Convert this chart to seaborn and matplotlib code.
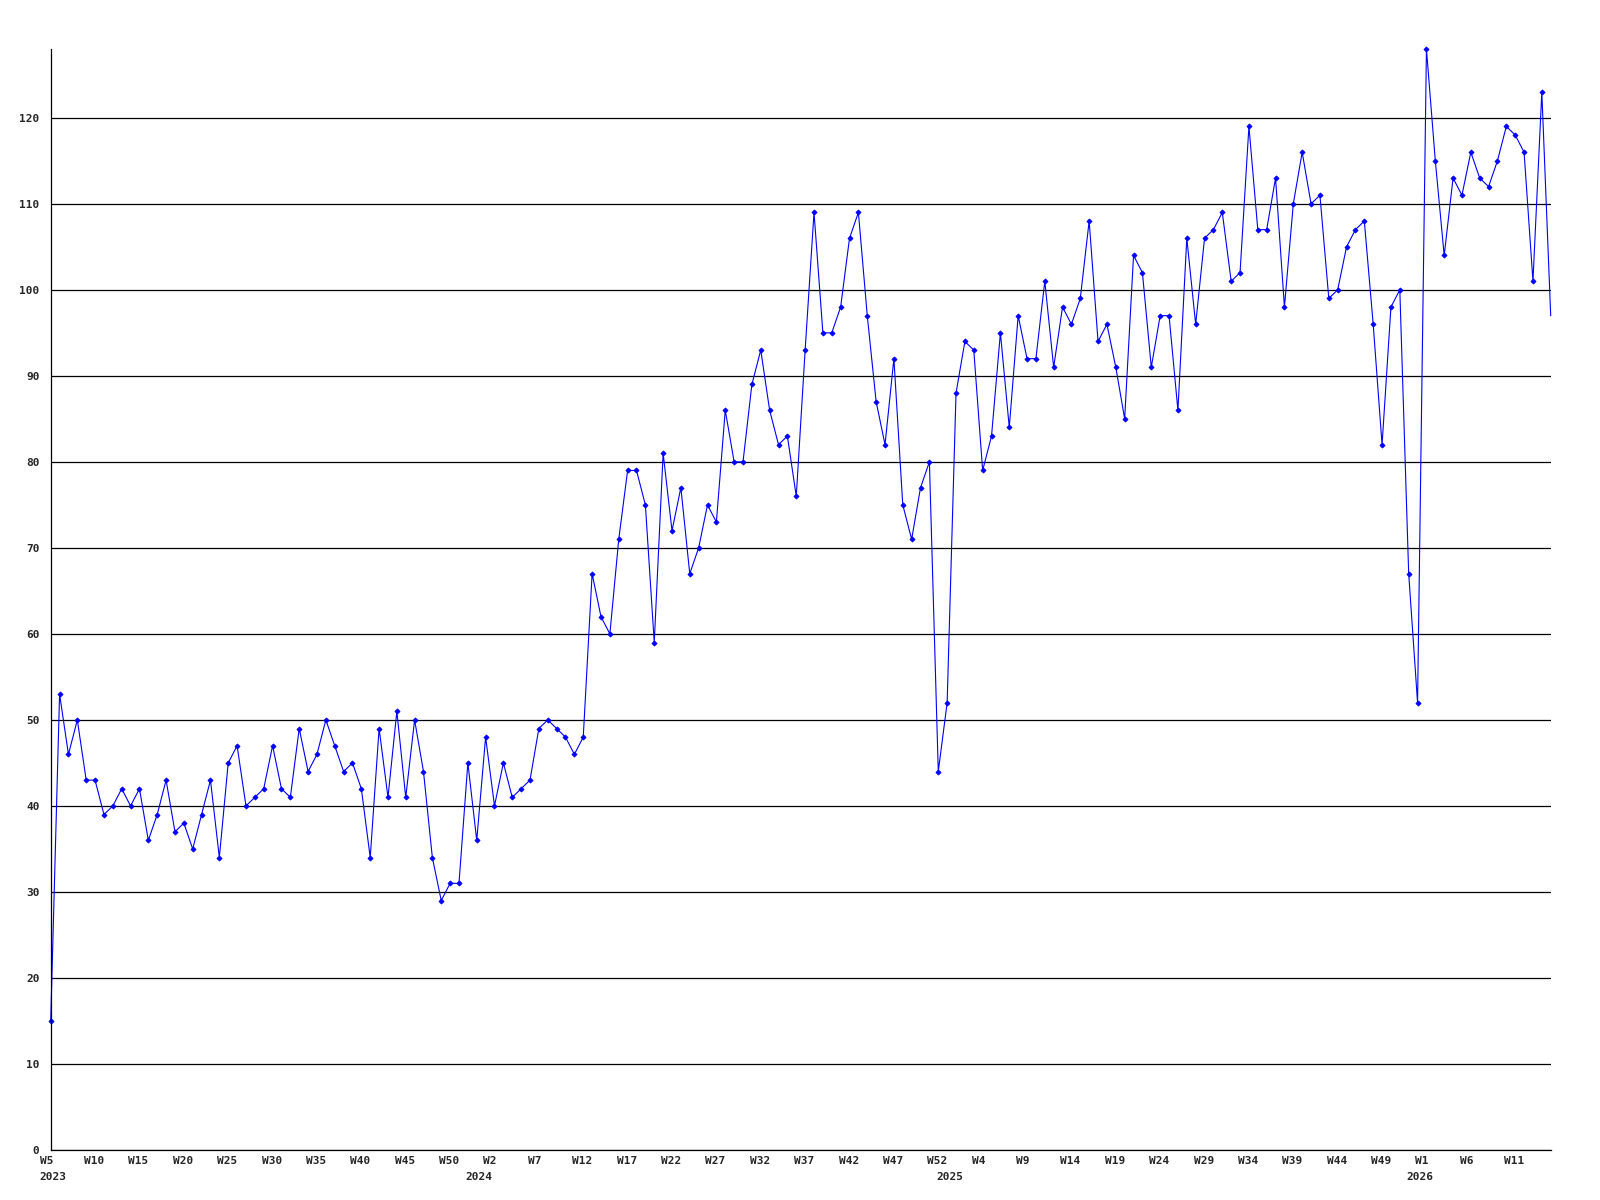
import numpy as np
import pandas as pd
import matplotlib
matplotlib.use("Agg")
import matplotlib.pyplot as plt
import seaborn as sns

# --- Data: weekly counts, 2023 W5 through 2026 W15 ---
values = [
    15, 53, 46, 50, 43, 43, 39, 40, 42, 40,
    42, 36, 39, 43, 37, 38, 35, 39, 43, 34,
    45, 47, 40, 41, 42, 47, 42, 41, 49, 44,
    46, 50, 47, 44, 45, 42, 34, 49, 41, 51,
    41, 50, 44, 34, 29, 31, 31, 45, 36, 48,
    40, 45, 41, 42, 43, 49, 50, 49, 48, 46,
    48, 67, 62, 60, 71, 79, 79, 75, 59, 81,
    72, 77, 67, 70, 75, 73, 86, 80, 80, 89,
    93, 86, 82, 83, 76, 93, 109, 95, 95, 98,
    106, 109, 97, 87, 82, 92, 75, 71, 77, 80,
    44, 52, 88, 94, 93, 79, 83, 95, 84, 97,
    92, 92, 101, 91, 98, 96, 99, 108, 94, 96,
    91, 85, 104, 102, 91, 97, 97, 86, 106, 96,
    106, 107, 109, 101, 102, 119, 107, 107, 113, 98,
    110, 116, 110, 111, 99, 100, 105, 107, 108, 96,
    82, 98, 100, 67, 52, 128, 115, 104, 113, 111,
    116, 113, 112, 115, 119, 118, 116, 101, 123, 97,
]

# labels on every 5th week
tick_labels = [
    "W5", "W10", "W15", "W20", "W25", "W30", "W35", "W40", "W45", "W50",
    "W2", "W7", "W12", "W17", "W22", "W27", "W32", "W37", "W42", "W47", "W52",
    "W4", "W9", "W14", "W19", "W24", "W29", "W34", "W39", "W44", "W49",
    "W1", "W6", "W11",
]
year_labels = ["2023", "2024", "2025", "2026"]
year_pos = [0, 49, 102, 155]   # index of first week of each year in the series

df = pd.DataFrame({"week": np.arange(len(values)), "value": values})

# --- Plot ---
sns.set_style("white")
plt.rcParams['font.family'] = ['DejaVu Sans Mono', 'DejaVu Sans']

fig = plt.figure(figsize=(16, 12), dpi=100)
ax = fig.add_axes([50.7 / 1600, 50 / 1200, 1500 / 1600, 1101 / 1200])

sns.lineplot(data=df, x="week", y="value", ax=ax, color="#0000ff",
             linewidth=0.8, marker="D", markersize=2.6,
             markeredgewidth=0.6, markeredgecolor="#0000ff",
             markevery=list(range(len(values) - 1)), clip_on=False)

ax.set_xlim(0, len(values) - 1)
ax.set_ylim(0, max(values))
ax.set_axisbelow(True)

ax.set_yticks(range(0, 121, 10))
ax.yaxis.grid(True, color="black", linewidth=0.9)
ax.xaxis.grid(False)
ax.tick_params(axis="y", length=0, pad=8, labelsize=8)
for lbl in ax.get_yticklabels():
    lbl.set_fontweight("bold")

ax.set_xticks(range(0, len(values), 5))
ax.set_xticklabels([])
ax.tick_params(axis="x", length=0)

for pos, lab in zip(range(0, len(values), 5), tick_labels):
    ax.annotate(lab, xy=(pos, 0), xycoords=("data", "axes fraction"),
                xytext=(-11, -11), textcoords="offset pixels",
                ha="left", va="center", fontsize=8, fontweight="bold")

for i, (pos, lab) in enumerate(zip(year_pos, year_labels)):
    if i == 0:
        ax.annotate(lab, xy=(pos, 0), xycoords=("data", "axes fraction"),
                    xytext=(-11, -27), textcoords="offset pixels",
                    ha="left", va="center", fontsize=8, fontweight="bold")
    else:
        ax.annotate(lab, xy=(pos, 0), xycoords=("data", "axes fraction"),
                    xytext=(-6.5, -27), textcoords="offset pixels",
                    ha="center", va="center", fontsize=8, fontweight="bold")

ax.set_xlabel("")
ax.set_ylabel("")
for side in ["top", "right"]:
    ax.spines[side].set_visible(False)
ax.spines["left"].set_color("black")
ax.spines["left"].set_linewidth(0.9)
ax.spines["bottom"].set_color("black")
ax.spines["bottom"].set_linewidth(0.9)

fig.savefig("out.png", dpi=100)
